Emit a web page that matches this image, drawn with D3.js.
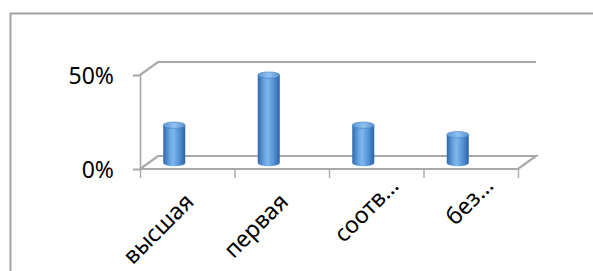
<!DOCTYPE html>
<html>
<head>
<meta charset="utf-8">
<script src="https://cdn.jsdelivr.net/npm/d3@7"></script>
<style>
  body { margin: 0; background: #fff; }
  text { font-family: "Noto Sans", "Open Sans", sans-serif; fill: #000; }
</style>
</head>
<body>
<div id="chart"></div>
<script>
// Данные диаграммы
const categories = ["высшая", "первая", "соотв…", "без…"];
const values = [0.20, 0.465, 0.20, 0.15];
const yTicks = [0, 0.5];

const width = 593;
const height = 271;

// Смещение "глубины" для псевдо-3D стенок
const depthX = 18;
const depthY = -13;

const svg = d3.select("#chart").append("svg")
  .attr("width", width)
  .attr("height", height);

// Рамка области диаграммы
svg.append("rect")
  .attr("x", 10.5).attr("y", 13.5)
  .attr("width", 620).attr("height", 300)
  .attr("fill", "#fff")
  .attr("stroke", "#a3a3a3")
  .attr("stroke-width", 2);

// Шкалы (передняя плоскость)
const x = d3.scaleBand().domain(categories).range([140, 518]).paddingInner(0);
const xEdge = d3.scaleLinear().domain([0, categories.length]).range([140, 518]);
const y = d3.scaleLinear().domain([0, 0.5]).range([169, 75]);
// шкала для столбиков (середина глубины)
const yBar = d3.scaleLinear().domain([0, 0.5]).range([163, 68.5]);

const gridColor = "#a8a8a8";

// Задняя стенка и пол
const walls = svg.append("g")
  .attr("fill", "none")
  .attr("stroke", gridColor)
  .attr("stroke-width", 2.2);

const line = d3.line();
const x0 = xEdge(0), x1 = xEdge(categories.length);
const yTop = y(0.5), yFloor = y(0);

walls.append("path")
  .attr("d", line([[x0, yTop], [x0 + depthX, yTop + depthY], [x1 + depthX, yTop + depthY]]));
walls.append("path")
  .attr("d", line([[x0, yFloor], [x0 + depthX, yFloor + depthY], [x1 + depthX, yFloor + depthY],
                   [x1, yFloor], [x0, yFloor]]));

// Ось Y
const yAxis = svg.append("g")
  .attr("transform", `translate(${x0},0)`)
  .call(d3.axisLeft(y).tickValues(yTicks).tickFormat(d3.format(".0%")).tickSize(7).tickPadding(19));
yAxis.select(".domain").attr("stroke", gridColor).attr("stroke-width", 1.6);
yAxis.selectAll(".tick line").attr("stroke", gridColor).attr("stroke-width", 1.6);
yAxis.selectAll(".tick text")
  .style("font-size", "23px")
  .attr("dy", "0.36em");

// Ось X (деления по границам категорий)
const xAxis = svg.append("g")
  .attr("transform", `translate(0,${yFloor})`)
  .call(d3.axisBottom(xEdge).tickValues(d3.range(categories.length + 1)).tickSize(9).tickFormat(""));
xAxis.select(".domain").remove();
xAxis.selectAll(".tick line").attr("stroke", gridColor).attr("stroke-width", 1.4);

// Подписи категорий, повернутые на -45°
svg.append("g").selectAll("text")
  .data(categories)
  .join("text")
  .attr("transform", d => {
    const shift = d.endsWith("…") ? 16 : 0;
    const cx = x(d) + x.bandwidth() / 2 + 8 + shift;
    const cy = 203 - shift;
    return `translate(${cx},${cy}) rotate(-45)`;
  })
  .attr("text-anchor", "end")
  .style("font-size", "23px")
  .text(d => d);

// Градиенты цилиндров
const defs = svg.append("defs");
const bodyGrad = defs.append("linearGradient").attr("id", "body").attr("x1", "0").attr("x2", "1");
[["0%", "#2f68ad"], ["30%", "#6aa6e2"], ["45%", "#80b6ec"], ["75%", "#4f8fd2"], ["100%", "#2c62a4"]]
  .forEach(([o, c]) => bodyGrad.append("stop").attr("offset", o).attr("stop-color", c));
const topGrad = defs.append("linearGradient").attr("id", "top").attr("x1", "0").attr("x2", "1");
[["0%", "#5c98d8"], ["50%", "#8fc1f0"], ["100%", "#5a94d4"]]
  .forEach(([o, c]) => topGrad.append("stop").attr("offset", o).attr("stop-color", c));

// Столбики-цилиндры
const barW = 22;
const ry = 3.2;
const barOffset = -13;

const bars = svg.append("g").selectAll("g")
  .data(categories.map((c, i) => ({ c, v: values[i] })))
  .join("g")
  .attr("transform", d => `translate(${x(d.c) + x.bandwidth() / 2 + barOffset},0)`);

bars.append("path")
  .attr("fill", "url(#body)")
  .attr("d", d => {
    const yt = yBar(d.v), yb = yBar(0);
    const r = barW / 2;
    return `M${-r},${yt} L${-r},${yb} A${r},${ry} 0 0 0 ${r},${yb} L${r},${yt} Z`;
  });

bars.append("ellipse")
  .attr("cx", 0)
  .attr("cy", d => yBar(d.v))
  .attr("rx", barW / 2)
  .attr("ry", ry)
  .attr("fill", "url(#top)")
  .attr("stroke", "#3f7cc0")
  .attr("stroke-width", 0.6);
</script>
</body>
</html>
